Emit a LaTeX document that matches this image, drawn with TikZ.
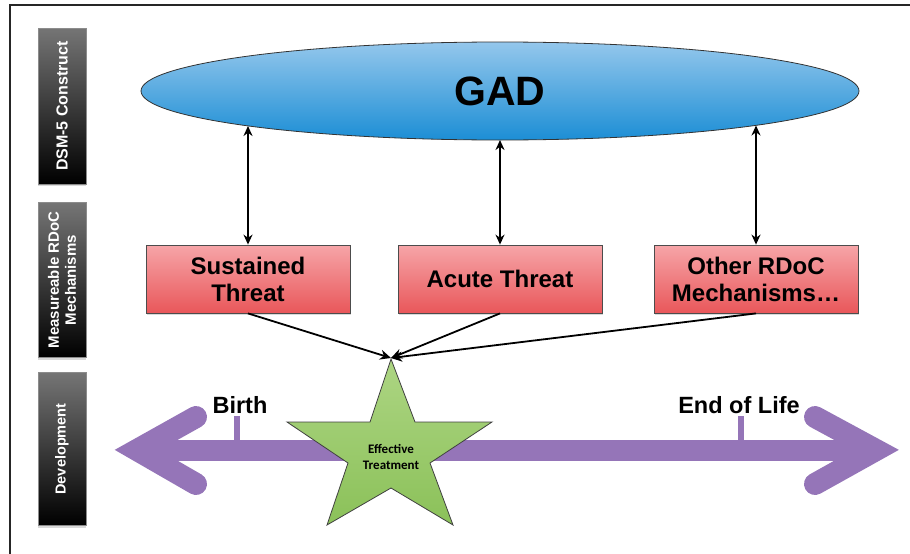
\documentclass[tikz,border=0pt]{standalone}
\usepackage{fontspec}
\setmainfont{Liberation Sans}
\newfontfamily\calib{Carlito}
\usetikzlibrary{shapes.geometric,arrows.meta,shadows,shadings,calc}
\definecolor{redtop}{HTML}{F6A5A8}
\definecolor{redbot}{HTML}{E9575A}
\definecolor{bluetop}{HTML}{94C7EC}
\definecolor{bluebot}{HTML}{1C8ED5}
\definecolor{greentop}{HTML}{ADD583}
\definecolor{greenbot}{HTML}{8BC159}
\definecolor{purp}{HTML}{9575B8}
\definecolor{sidetop}{HTML}{757575}
\begin{document}
\begin{tikzpicture}[x=1pt,y=-1pt,
  sidebox/.style={rectangle, draw=black!45, line width=0.6pt, top color=sidetop, bottom color=black,
    minimum width=48pt, inner sep=0pt, drop shadow={opacity=0.3, shadow xshift=0pt, shadow yshift=-2pt}},
  sidetext/.style={text=white, align=center, rotate=90, inner sep=0pt},
  redbox/.style={rectangle, draw=black!70, line width=0.8pt, top color=redtop, bottom color=redbot,
    minimum width=204pt, minimum height=68pt, inner sep=0pt, align=center,
    font=\bfseries\fontsize{24}{27}\selectfont,
    drop shadow={opacity=0.3, shadow xshift=1pt, shadow yshift=-2pt}},
  dbl/.style={line width=1.7pt, {Stealth[length=10pt,width=9pt]}-{Stealth[length=10pt,width=9pt]}},
  conv/.style={line width=1.8pt, -{Stealth[length=11pt,width=10pt]}},
  tl/.style={font=\bfseries\fontsize{23.5}{26}\selectfont, anchor=base, inner sep=0pt}
]
\useasboundingbox (0,0) rectangle (910,554);
% frame
\draw[line width=2.5pt, black!85] (10,554) -- (10,5) -- (910,5);

% side labels
\node[sidebox, minimum height=156pt] (s1) at (62,106) {};
\node[sidetext, font=\bfseries\fontsize{16}{18}\selectfont] (t1) at (s1) {DSM-5 Construct};
\node[sidebox, minimum height=155pt] (s2) at (62,280) {};
\node[sidetext, font=\bfseries\fontsize{15}{17}\selectfont] (t2) at (s2) {Measureable RDoC\\Mechanisms};
\node[sidebox, minimum height=153pt] (s3) at (62,449) {};
\node[sidetext, font=\bfseries\fontsize{14.5}{17}\selectfont] (t3) at (s3) {Development};

% GAD ellipse
\node[ellipse, draw=black!80, line width=0.8pt, top color=bluetop, bottom color=bluebot,
  minimum width=718pt, minimum height=98pt, inner sep=0pt, outer sep=0pt,
  font=\bfseries\fontsize{41}{44}\selectfont] (gad) at (500,91) {GAD};

% red boxes
\node[redbox] (sus) at (248,279) {Sustained\\Threat};
\node[redbox] (acu) at (500,279) {Acute Threat};
\node[redbox] (oth) at (756,279) {Other RDoC\\Mechanisms\ldots};

% vertical double arrows
\draw[dbl] ($(gad.center)+(-252,35)$) -- (sus.north);
\draw[dbl] (gad.south) -- (acu.north);
\draw[dbl] ($(gad.center)+(256,34.5)$) -- (oth.north);

% development arrow
\draw[purp, line width=21pt] (137,450) -- (876,450);
\draw[purp, line width=22pt, line cap=round, line join=miter] (196,417) -- (137,450) -- (196,484);
\draw[purp, line width=22pt, line cap=round, line join=miter] (815,417) -- (876,450) -- (815,484);
\draw[purp, line width=6pt] (237,416) -- (237,442);
\draw[purp, line width=6pt] (741,416) -- (741,442);
\node[tl] (birth) at (240,413) {Birth};
\node[tl] (eol) at (739,413) {End of Life};

% star
\path[draw=black!75, line width=0.8pt, top color=greentop, bottom color=greenbot, line join=miter]
  (391,359) -- (415,422) -- (492,422) -- (430,463) -- (453,525) -- (391,488)
  -- (327,525) -- (348,463) -- (287,422) -- (370,422) -- cycle;
\coordinate (startop) at (391,358);
\node[font=\calib\bfseries\fontsize{13}{16}\selectfont, align=center, inner sep=0pt] (eff) at (391,457) {Effective\\Treatment};

% converging arrows
\draw[conv] (sus.south) -- (startop);
\draw[conv] (acu.south) -- (startop);
\draw[conv] (oth.south) -- (startop);
\end{tikzpicture}
\end{document}
